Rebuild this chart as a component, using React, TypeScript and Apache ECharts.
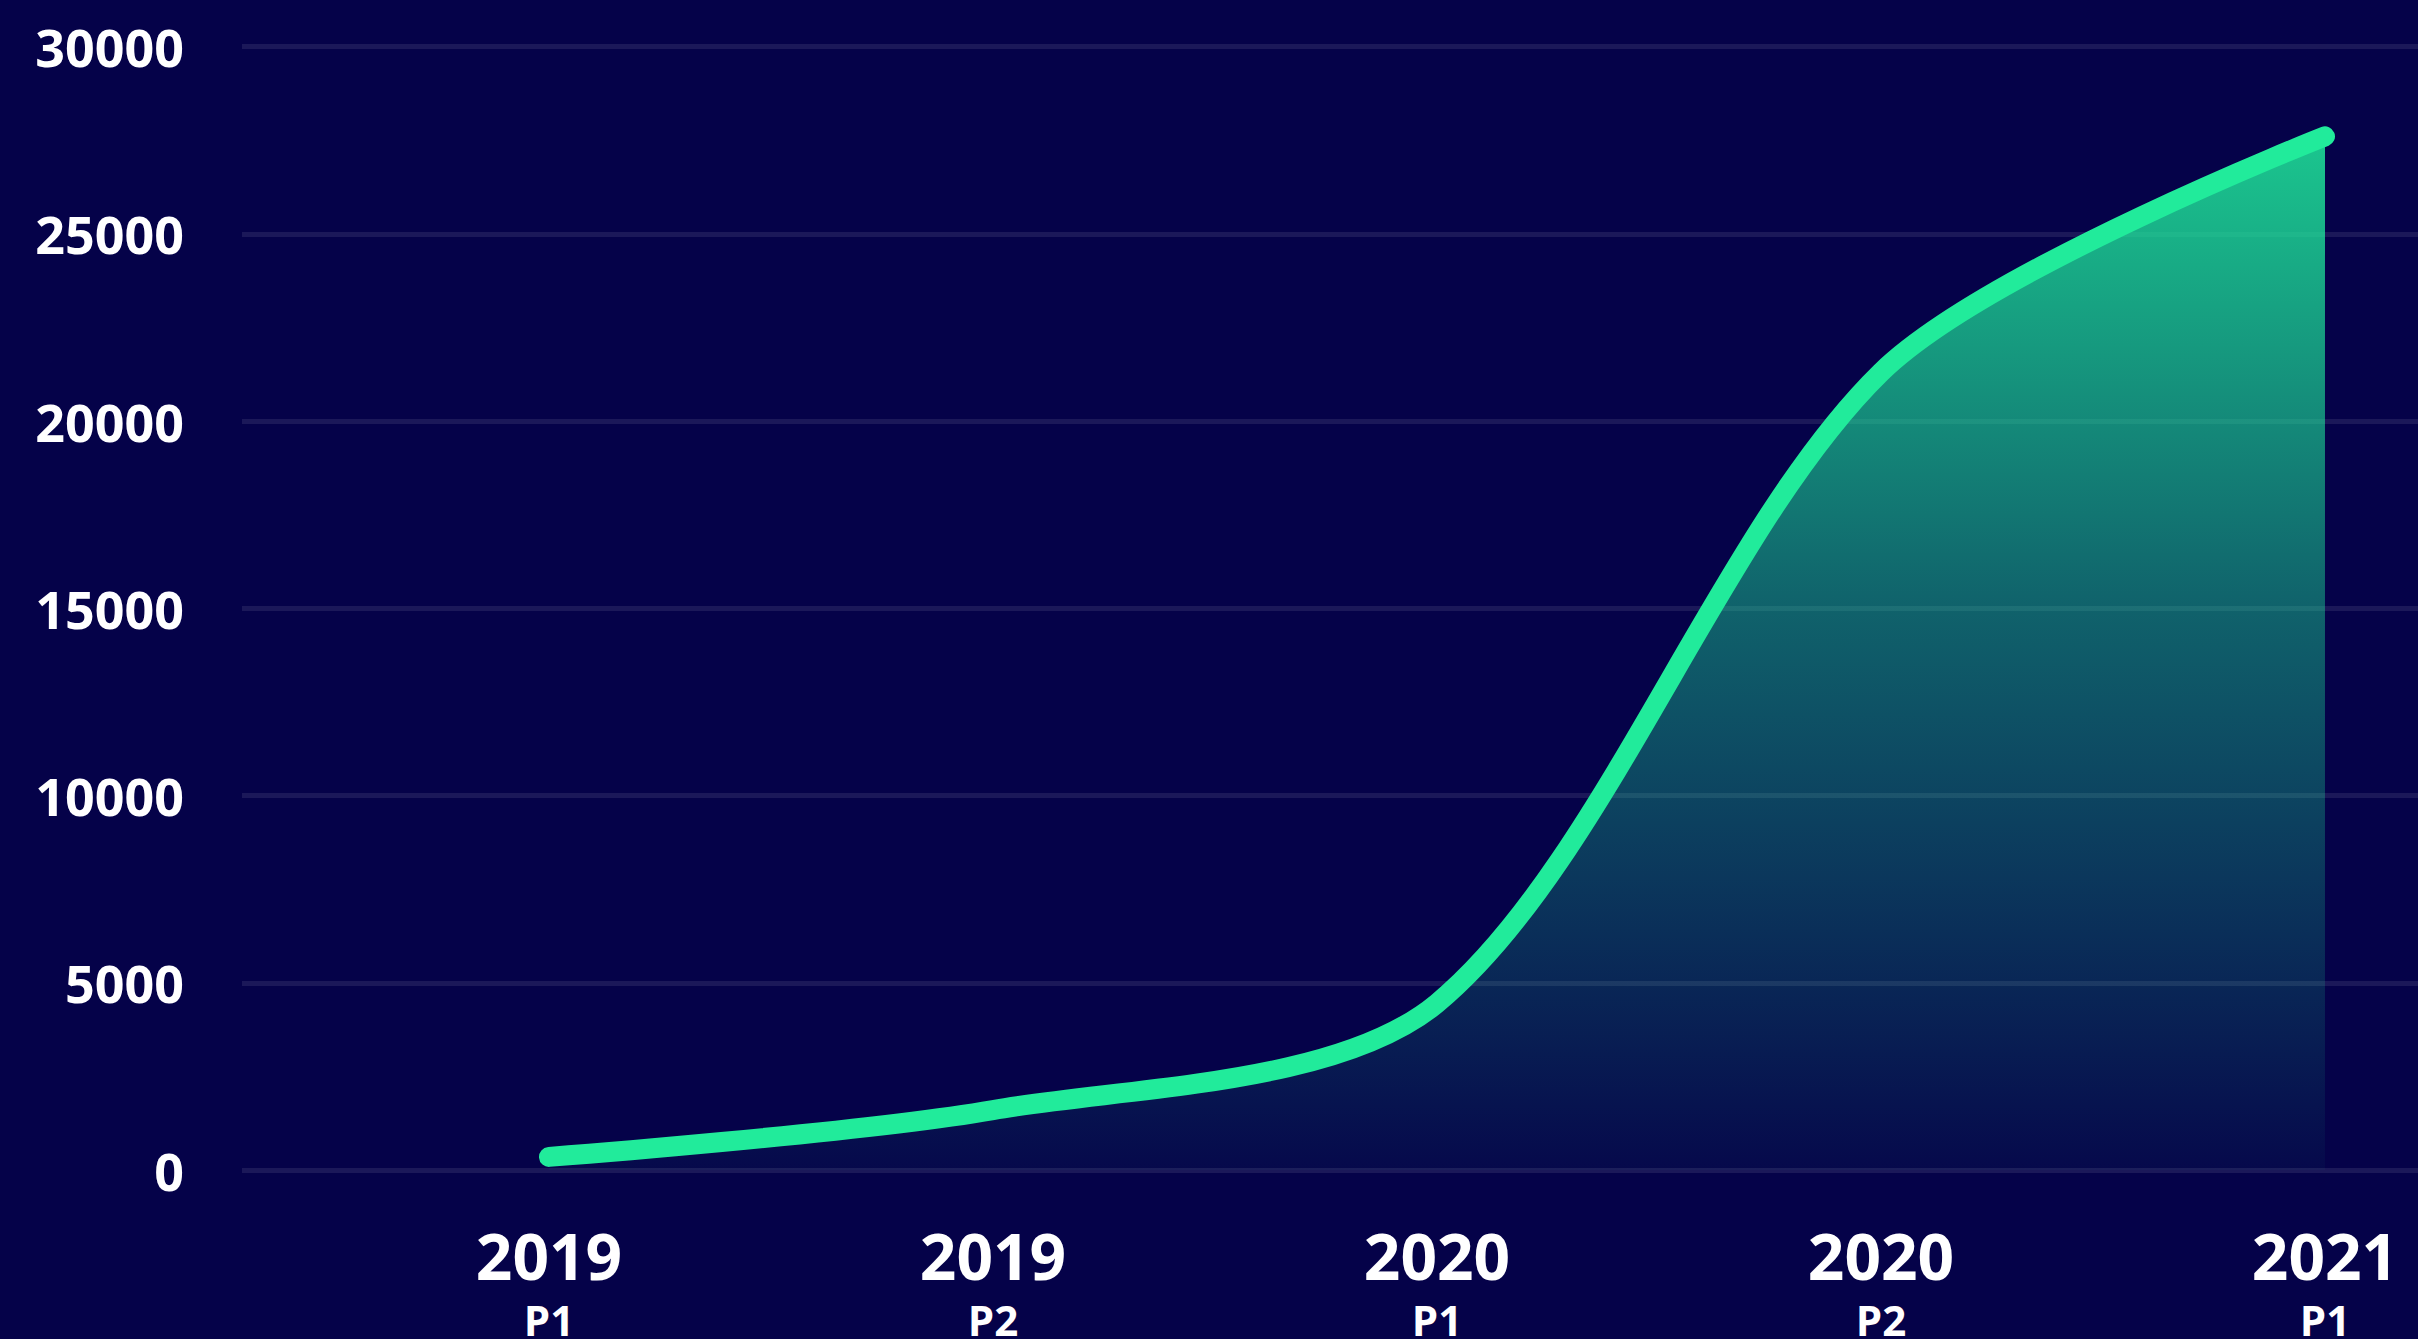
import React, { useEffect, useRef } from "react";
import * as echarts from "echarts";

const yearLabels = ["2019", "2019", "2020", "2020", "2021"];
const periodLabels = ["P1", "P2", "P1", "P2", "P1"];
const values = [350, 1600, 4450, 21300, 27600];

export default function App() {
  const ref = useRef<HTMLDivElement>(null);
  useEffect(() => {
    if (!ref.current) return;
    const chart = echarts.init(ref.current, null, { renderer: "svg" });
    const idx = yearLabels.map((_, i) => i);
    chart.setOption({
      animation: false,
      backgroundColor: "#050249",
      grid: { left: 242, right: 0, top: 46.5, bottom: 169, containLabel: false, outerBoundsMode: "none" },
      xAxis: {
        type: "value",
        min: -0.6914,
        max: 4.2095,
        splitLine: { show: false },
        axisLine: { show: false },
        axisTick: { show: false },
        axisLabel: {
          customValues: idx,
          margin: 50,
          formatter: (v: number) => {
            const i = Math.round(v);
            return `{a|${yearLabels[i]}}\n{b|${periodLabels[i]}}`;
          },
          rich: {
            a: { fontFamily: "Open Sans", fontWeight: 700, fontSize: 64, color: "#ffffff", lineHeight: 70, align: "center" },
            b: { fontFamily: "Open Sans", fontWeight: 700, fontSize: 42, color: "#ffffff", lineHeight: 58, align: "center" },
          },
        },
      },
      yAxis: {
        type: "value",
        min: 0,
        max: 30000,
        interval: 5000,
        axisLine: { show: false },
        axisTick: { show: false },
        splitLine: { lineStyle: { color: "rgba(255,255,255,0.09)", width: 5 } },
        axisLabel: {
          margin: 58,
          color: "#ffffff",
          fontFamily: "Open Sans",
          fontWeight: 700,
          fontSize: 52,
          formatter: (v: number) => String(v),
        },
      },
      series: [
        {
          type: "line",
          data: values.map((v, i) => [i, v]),
          smooth: 0.3,
          showSymbol: false,
          symbol: "none",
          lineStyle: { color: "#21EB9B", width: 20, cap: "round", join: "round" },
          areaStyle: {
            opacity: 1,
            color: new echarts.graphic.LinearGradient(0, 0, 0, 1, [
              { offset: 0, color: "rgba(31,233,155,0.85)" },
              { offset: 0.45, color: "rgba(31,233,155,0.42)" },
              { offset: 1, color: "rgba(31,233,155,0.03)" },
            ]),
          },
          z: 3,
        },
      ],
    });
    return () => chart.dispose();
  }, []);
  return (
    <div
      ref={ref}
      style={{ position: "fixed", left: 0, top: 0, width: 2418, height: 1339 }}
    />
  );
}
